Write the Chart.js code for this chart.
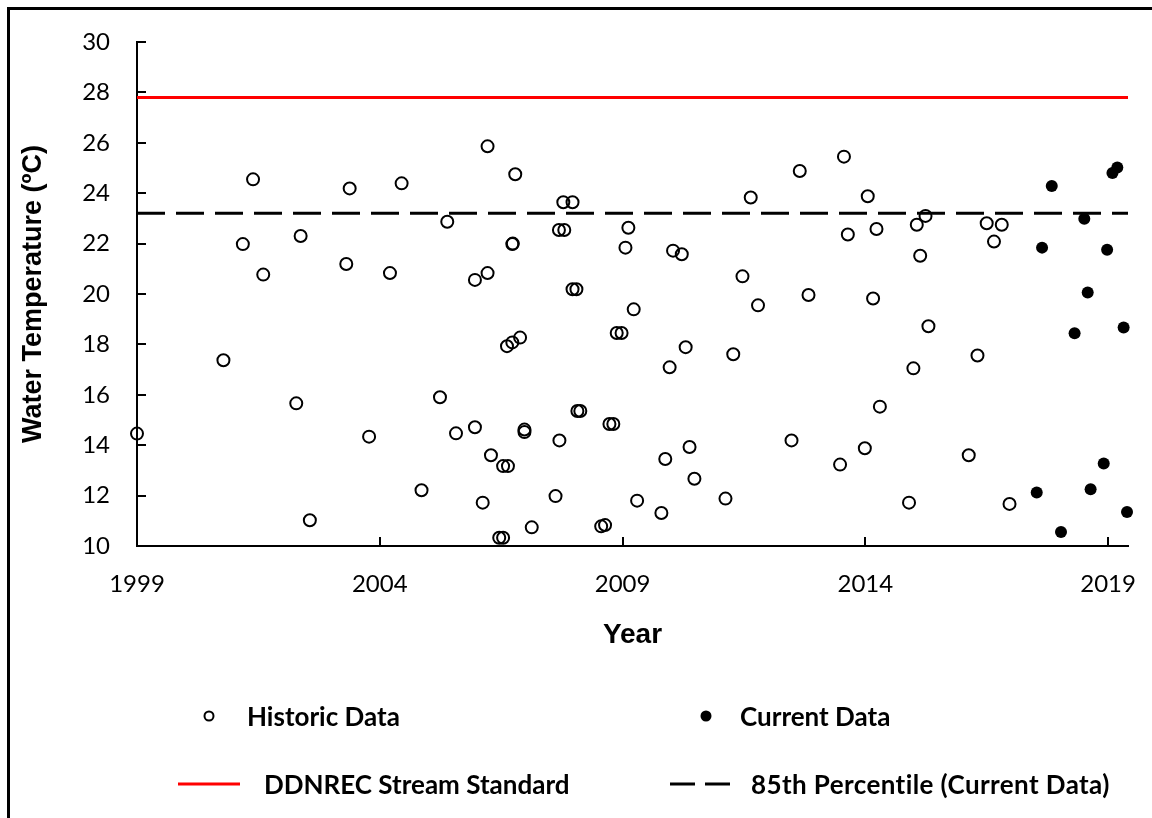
<!DOCTYPE html>
<html>
<head>
<meta charset="utf-8">
<title>Water Temperature</title>
<script src="https://cdn.jsdelivr.net/npm/chart.js@4/dist/chart.umd.min.js"></script>
<style>
  html, body { margin: 0; padding: 0; background: #fff; }
  #wrap { position: relative; width: 1152px; height: 818px; overflow: hidden; }
  #wrap canvas { position: absolute; left: 0; top: 0; }
  #frame { position: absolute; left: 7px; top: 7px; width: 1200px; height: 900px;
           border-top: 3px solid #000; border-left: 3px solid #000; pointer-events: none; }
  .lg { position: absolute; font-family: Lato, "Open Sans", sans-serif; font-weight: 700;
        font-size: 26px; color: #000; line-height: 1; white-space: nowrap; transform: translateY(-50%); }
  .mk { position: absolute; box-sizing: border-box; border-radius: 50%; transform: translate(-50%, -50%); }
  .ln { position: absolute; height: 3px; transform: translateY(-50%); }
</style>
</head>
<body>
<div id="wrap">
  <canvas id="c" width="1152" height="818"></canvas>
  <div id="frame"></div>

  <div class="mk" style="left:209px;top:716px;width:11px;height:11px;border:2px solid #000;"></div>
  <div class="lg" style="left:247px;top:716px;">Historic Data</div>
  <div class="mk" style="left:706px;top:716px;width:11px;height:11px;background:#000;"></div>
  <div class="lg" style="left:740px;top:716px;">Current Data</div>

  <div class="ln" style="left:178px;top:784px;width:62px;background:#ff0000;"></div>
  <div class="lg" style="left:264px;top:784px;">DDNREC Stream Standard</div>
  <div class="ln" style="left:670px;top:784px;width:25px;background:#000;"></div>
  <div class="ln" style="left:705px;top:784px;width:25px;background:#000;"></div>
  <div class="lg" style="left:751px;top:784px;letter-spacing:0.4px;">85th Percentile (Current Data)</div>
</div>

<script>
// Sampling dates (decimal years) and water temperatures (°C)
const historicYears = [
  1999.00, 2000.78, 2001.18, 2001.39, 2001.60, 2002.28, 2002.37, 2002.56, 2003.31, 2003.38,
  2003.78, 2004.21, 2004.45, 2004.86, 2005.24, 2005.39, 2005.57, 2005.96, 2005.96, 2006.12,
  2006.22, 2006.22, 2006.29, 2006.46, 2006.54, 2006.54, 2006.62, 2006.64, 2006.73, 2006.73,
  2006.74, 2006.79, 2006.89, 2006.98, 2006.98, 2007.13, 2007.62, 2007.69, 2007.70, 2007.78,
  2007.80, 2007.97, 2007.97, 2008.05, 2008.07, 2008.13, 2008.56, 2008.64, 2008.73, 2008.81,
  2008.88, 2008.98, 2009.06, 2009.12, 2009.23, 2009.30, 2009.80, 2009.88, 2009.97, 2010.04,
  2010.22, 2010.30, 2010.38, 2010.48, 2011.12, 2011.28, 2011.47, 2011.64, 2011.79, 2012.48,
  2012.65, 2012.83, 2013.48, 2013.56, 2013.64, 2013.99, 2014.05, 2014.16, 2014.23, 2014.30,
  2014.90, 2014.99, 2015.06, 2015.13, 2015.24, 2015.30, 2016.13, 2016.31, 2016.50, 2016.65,
  2016.81, 2016.97
];
const historicTemps = [
  14.46, 17.37, 21.98, 24.55, 20.77, 15.66, 22.30, 11.02, 21.19, 24.19,
  14.34, 20.83, 24.39, 12.21, 15.90, 22.87, 14.47, 20.56, 14.71, 11.72,
  25.86, 20.83, 13.60, 10.33, 10.33, 13.17, 17.93, 13.17, 18.08, 21.98,
  22.00, 24.75, 18.27, 14.62, 14.52, 10.74, 11.98, 22.54, 14.19, 23.64,
  22.54, 23.64, 20.19, 20.19, 15.36, 15.36, 10.78, 10.83, 14.84, 14.84,
  18.45, 18.45, 21.84, 22.63, 19.39, 11.80, 11.31, 13.45, 17.09, 21.72,
  21.58, 17.89, 13.93, 12.67, 11.88, 17.61, 20.70, 23.83, 19.55, 14.19,
  24.88, 19.96, 13.23, 25.45, 22.36, 13.88, 23.88, 19.82, 22.58, 15.53,
  11.72, 17.05, 22.75, 21.52, 23.10, 18.72, 13.60, 17.56, 22.81, 22.08,
  22.75, 11.67
];

const currentYears = [
  2017.53, 2017.64, 2017.84, 2018.03, 2018.31, 2018.51, 2018.58, 2018.64, 2018.91, 2018.98,
  2019.09, 2019.19, 2019.32, 2019.39
];
const currentTemps = [
  12.12, 21.84, 24.29, 10.56, 18.44, 22.99, 20.06, 12.25, 13.27, 21.76,
  24.80, 25.02, 18.67, 11.35
];

// Reference levels
const streamStandard = 27.8;
const percentile85 = 23.2;

// Axis extents and tick labels
const xRange = [1999, 2019.41];
const xTickYears = [1999, 2004, 2009, 2014, 2019];
const yRange = [10, 30];
const yTickStep = 2;

const toPoints = (xs, ys) => xs.map((x, i) => ({ x: x, y: ys[i] }));
const levelLine = v => xRange.map(x => ({ x: x, y: v }));

// Short tick marks pointing into the plot area
const inwardTicks = {
  id: 'inwardTicks',
  afterDatasetsDraw(chart) {
    const { ctx, chartArea, scales } = chart;
    const len = 9;
    ctx.save();
    ctx.strokeStyle = '#000';
    ctx.lineWidth = 2;
    ctx.beginPath();
    scales.x.ticks.forEach((t, i) => {
      const px = Math.round(scales.x.getPixelForTick(i));
      ctx.moveTo(px, chartArea.bottom);
      ctx.lineTo(px, chartArea.bottom - len);
    });
    scales.y.ticks.forEach((t, i) => {
      const py = Math.round(scales.y.getPixelForTick(i));
      ctx.moveTo(chartArea.left, py);
      ctx.lineTo(chartArea.left + len, py);
    });
    ctx.stroke();
    ctx.restore();
  }
};

new Chart(document.getElementById('c'), {
  type: 'scatter',
  data: {
    datasets: [
      {
        label: 'DDNREC Stream Standard',
        data: levelLine(streamStandard),
        showLine: true,
        borderColor: '#ff0000',
        borderWidth: 3,
        pointRadius: 0,
        clip: false
      },
      {
        label: '85th Percentile (Current Data)',
        data: levelLine(percentile85),
        showLine: true,
        borderColor: '#000',
        borderWidth: 3,
        borderDash: [28, 11],
        pointRadius: 0,
        clip: false
      },
      {
        label: 'Historic Data',
        data: toPoints(historicYears, historicTemps),
        pointStyle: 'circle',
        pointRadius: 6,
        pointBorderWidth: 2,
        pointBorderColor: '#000',
        pointBackgroundColor: 'rgba(0,0,0,0)',
        clip: false
      },
      {
        label: 'Current Data',
        data: toPoints(currentYears, currentTemps),
        pointStyle: 'circle',
        pointRadius: 6,
        pointBorderWidth: 0,
        pointBackgroundColor: '#000',
        pointBorderColor: '#000',
        clip: false
      }
    ]
  },
  options: {
    responsive: false,
    animation: false,
    events: [],
    layout: { padding: { left: 0, top: 42, right: 24, bottom: 162 } },
    plugins: { legend: { display: false }, tooltip: { enabled: false } },
    scales: {
      x: {
        type: 'linear',
        min: xRange[0],
        max: xRange[1],
        afterBuildTicks: s => { s.ticks = xTickYears.map(v => ({ value: v })); },
        afterFit: s => { s.height = 110; s.paddingLeft = 0; s.paddingRight = 0; },
        grid: { display: true, drawOnChartArea: false, drawTicks: false },
        border: { display: true, color: '#000', width: 2 },
        ticks: {
          padding: 24,
          color: '#000',
          font: { family: 'Lato', size: 24 },
          maxRotation: 0,
          callback: v => String(v)
        },
        title: {
          display: true,
          text: 'Year',
          color: '#000',
          font: { family: '"Liberation Sans", Arial, sans-serif', size: 28, weight: 'bold' },
          padding: { top: 0, bottom: 4 }
        }
      },
      y: {
        min: yRange[0],
        max: yRange[1],
        afterFit: s => { s.width = 137; },
        grid: { display: true, drawOnChartArea: false, drawTicks: false },
        border: { display: true, color: '#000', width: 2 },
        ticks: {
          stepSize: yTickStep,
          padding: 27,
          color: '#000',
          font: { family: 'Lato', size: 24 }
        },
        title: {
          display: true,
          text: 'Water Temperature (ºC)',
          color: '#000',
          font: { family: '"Liberation Sans", Arial, sans-serif', size: 27, weight: 'bold' },
          padding: { top: 17, bottom: 0 }
        }
      }
    }
  },
  plugins: [inwardTicks]
});
</script>
</body>
</html>
